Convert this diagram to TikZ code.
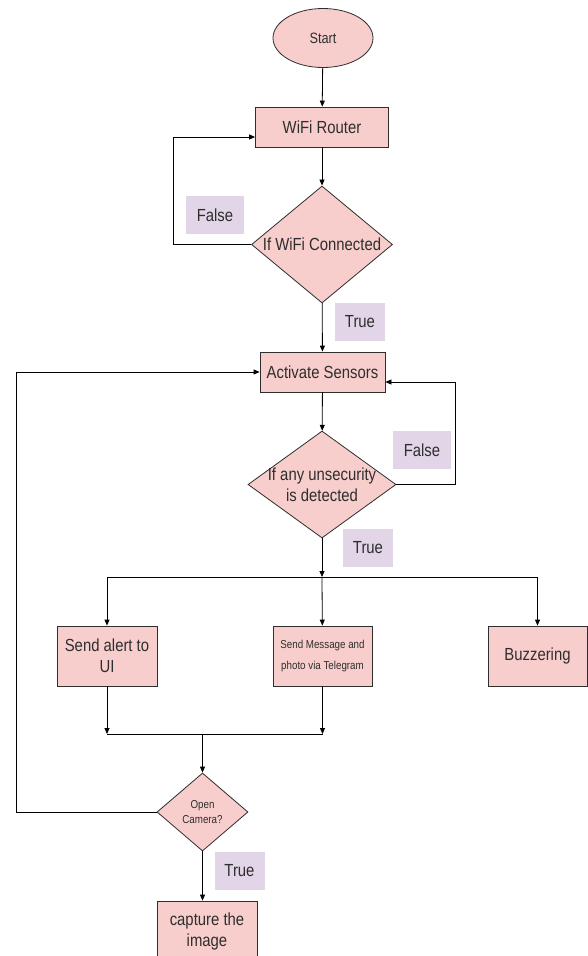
\documentclass[tikz,border=0pt]{standalone}
\usepackage{fontspec}
\setmainfont{Liberation Sans}[FakeStretch=0.85]
\usetikzlibrary{shapes.geometric,arrows.meta}
\definecolor{boxfill}{HTML}{F8CECC}
\definecolor{tagfill}{HTML}{E1D5E7}
\definecolor{ink}{HTML}{2E2E2E}
\begin{document}
\begin{tikzpicture}[x=1pt, y=-1pt,
	every node/.style={text=ink, font=\fontsize{17.5}{21}\selectfont, align=center},
	box/.style={draw=ink, fill=boxfill, line width=0.8pt, inner sep=2pt},
	decision/.style={diamond, draw=ink, fill=boxfill, line width=0.8pt, inner sep=0pt},
	tag/.style={fill=tagfill, minimum width=50pt, minimum height=38pt},
	arrow/.style={draw, line width=0.8pt, -{Triangle[length=6pt, width=5pt]}},
	line/.style={draw, line width=0.8pt}]
	\clip (0,0) rectangle (588,956);
	\fill[white] (0,0) rectangle (588,956);
		\node[box, ellipse, minimum width=100pt, minimum height=59pt, font=\fontsize{15}{18}\selectfont](start) at (323,38) {Start};
		\node[box, minimum width=133pt, minimum height=40pt](router) at (322,127) {WiFi Router};
		\node[decision, minimum width=141pt, minimum height=117pt, label={center:If WiFi Connected}](wifi) at (322,244.5) {};
		\node[box, minimum width=125pt, minimum height=40pt](sensors) at (322.5,372) {Activate Sensors};
		\node[decision, minimum width=148pt, minimum height=107pt, label={[align=center]center:If any unsecurity\\is detected}](unsec) at (322,484.5) {};
		\node[box, minimum width=100pt, minimum height=60pt](alert) at (107,656) {Send alert to\\UI};
		\node[box, minimum width=99pt, minimum height=60pt, font=\fontsize{11.5}{21}\selectfont](msg) at (322.5,656) {Send Message and\\photo via Telegram};
		\node[box, minimum width=99pt, minimum height=60pt](buzz) at (537.5,656) {Buzzering};
		\node[decision, minimum width=91pt, minimum height=78pt, label={[align=center, font=\fontsize{11.5}{15}\selectfont]center:Open\\Camera?}](camera) at (202.5,812) {};
		\node[box, minimum width=100pt, minimum height=60pt](capture) at (207,931) {capture the\\image};
		\node[tag, minimum width=58pt](false1) at (215,215) {False};
		\node[tag](true1) at (360,322) {True};
		\node[tag, minimum width=58pt](false2) at (422,450) {False};
		\node[tag](true2) at (368,548) {True};
		\node[tag](true3) at (239.5,871) {True};
	\coordinate (loopA) at (173,137);
	\coordinate (loopB) at (455,382);
	\coordinate (split) at (322,577);
	\coordinate (join) at (202.5,734);
	\coordinate (loopC) at (16,372);
	\draw[arrow] (start) -- (router);
	\draw[arrow] (router) -- (wifi);
	\draw[arrow] (wifi.west) -| (loopA) -- ([yshift=-10pt]router.west);
	\draw[arrow] (wifi) -- (sensors);
	\draw[arrow] (sensors) -- (unsec);
	\draw[arrow] (unsec.east) -| (loopB) -- ([yshift=-10pt]sensors.east);
	\draw[arrow] (unsec) -- (split);
	\draw[arrow] (split) -| (alert);
	\draw[arrow] (split) -- (msg);
	\draw[arrow] (split) -| (buzz);
	\draw[arrow] (alert) -- (alert |- join);
	\draw[arrow] (msg) -- (msg |- join);
	\draw[line] (alert |- join) -- (msg |- join);
	\draw[arrow] (join) -- (camera);
	\draw[arrow] (camera.west) -| (loopC) -- (sensors.west);
	\draw[arrow] (camera) -- (camera |- capture.north);
\end{tikzpicture}
\end{document}
